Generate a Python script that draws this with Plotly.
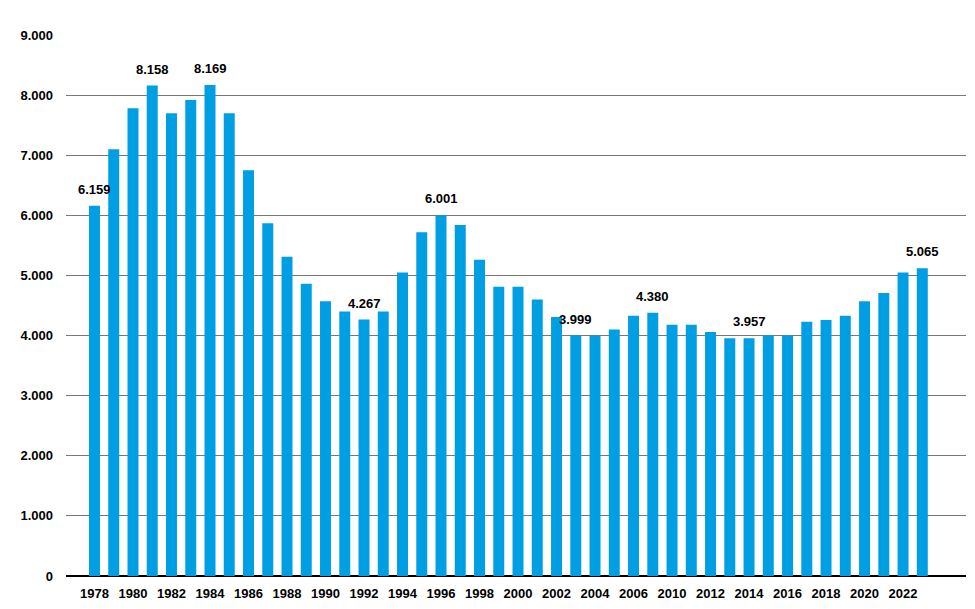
import plotly.graph_objects as go

years = [str(y) for y in range(1978, 2008)] + [str(y) for y in range(2010, 2024)]
values = [6159, 7100, 7780, 8158, 7700, 7920, 8169, 7700, 6750, 5870,
          5310, 4860, 4570, 4400, 4267, 4400, 5050, 5720, 6001, 5840,
          5260, 4810, 4810, 4600, 4310, 3999, 3995, 4100, 4330, 4380,
          4180, 4180, 4060, 3955, 3957, 4000, 4000, 4230, 4260, 4330,
          4570, 4710, 5050, 5120]
label_years = ["1978", "1981", "1984", "1992", "1996", "2003", "2007", "2014", "2023"]
label_texts = ["6.159", "8.158", "8.169", "4.267", "6.001", "3.999", "4.380", "3.957", "5.065"]
tick_years = [y for i, y in enumerate(years) if i % 2 == 0]
y_ticks = [0, 1000, 2000, 3000, 4000, 5000, 6000, 7000, 8000, 9000]

fig = go.Figure()
fig.add_trace(go.Bar(x=years, y=values, marker=dict(color="#009FE3", line=dict(width=0)),
                     hoverinfo="x+y"))

for yr, txt in zip(label_years, label_texts):
    idx = years.index(yr)
    fig.add_annotation(x=idx, y=values[idx], xref="x", yref="y", text=txt, showarrow=False,
                       yanchor="bottom", yshift=7,
                       font=dict(family="Liberation Sans", size=13, color="#000000", weight="bold"))

fig.update_layout(
    width=975, height=609,
    margin=dict(l=52, r=17, t=27, b=41),
    plot_bgcolor="white", paper_bgcolor="white",
    separators=",.",
    bargap=0.43,
    showlegend=False,
    font=dict(family="Liberation Sans", size=13, color="#000000", weight="bold"),
    xaxis=dict(type="category", range=[-1.48, 45.27], tickmode="array",
               tickvals=tick_years, ticktext=tick_years, showgrid=False,
               ticks="", ticklabelstandoff=8, showline=False, zeroline=False,
               tickfont=dict(family="Liberation Sans", size=13, color="#000000", weight="bold")),
    yaxis=dict(range=[0, 9000], tickmode="array", tickvals=y_ticks, tickformat=",d",
               showgrid=True, gridcolor="#777777", gridwidth=1,
               zeroline=True, zerolinecolor="#000000", zerolinewidth=1.5,
               ticks="", ticklabelstandoff=12,
               tickfont=dict(family="Liberation Sans", size=13, color="#000000", weight="bold")),
)

fig.write_html("out.html")
